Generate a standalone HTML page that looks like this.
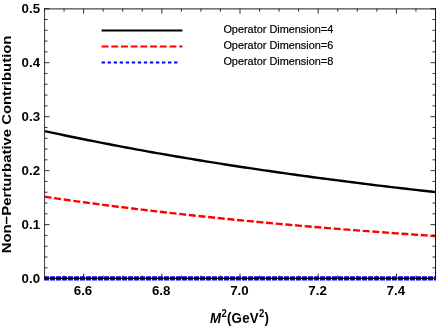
<!DOCTYPE html>
<html><head><meta charset="utf-8"><style>
html,body{margin:0;padding:0;background:#fff;}
svg{display:block;will-change:transform;}
text{font-family:"Liberation Sans",sans-serif;fill:#000}
</style></head><body>
<svg width="436" height="327" viewBox="0 0 436 327">
<rect width="436" height="327" fill="#fff"/>
<path d="M44.50,131.07 L49.39,132.13 L54.28,133.17 L59.16,134.20 L64.05,135.23 L68.94,136.25 L73.83,137.25 L78.71,138.25 L83.60,139.24 L88.49,140.22 L93.38,141.19 L98.26,142.15 L103.15,143.11 L108.04,144.05 L112.92,144.99 L117.81,145.92 L122.70,146.84 L127.59,147.75 L132.47,148.66 L137.36,149.56 L142.25,150.44 L147.14,151.33 L152.03,152.20 L156.91,153.07 L161.80,153.92 L166.69,154.78 L171.58,155.62 L176.46,156.46 L181.35,157.29 L186.24,158.11 L191.12,158.92 L196.01,159.73 L200.90,160.53 L205.79,161.33 L210.67,162.11 L215.56,162.89 L220.45,163.67 L225.34,164.44 L230.22,165.20 L235.11,165.95 L240.00,166.70 L244.89,167.44 L249.78,168.18 L254.66,168.91 L259.55,169.63 L264.44,170.35 L269.33,171.06 L274.21,171.77 L279.10,172.47 L283.99,173.16 L288.88,173.85 L293.76,174.53 L298.65,175.21 L303.54,175.88 L308.42,176.55 L313.31,177.21 L318.20,177.86 L323.09,178.51 L327.97,179.16 L332.86,179.80 L337.75,180.43 L342.64,181.06 L347.53,181.68 L352.41,182.30 L357.30,182.91 L362.19,183.52 L367.08,184.13 L371.96,184.73 L376.85,185.32 L381.74,185.91 L386.62,186.49 L391.51,187.07 L396.40,187.65 L401.29,188.22 L406.17,188.79 L411.06,189.35 L415.95,189.91 L420.84,190.46 L425.72,191.01 L430.61,191.55 L435.50,192.09" fill="none" stroke="#000" stroke-width="2.4"/>
<path d="M44.50,196.71 L49.39,197.43 L54.28,198.14 L59.16,198.84 L64.05,199.53 L68.94,200.22 L73.83,200.90 L78.71,201.57 L83.60,202.23 L88.49,202.89 L93.38,203.54 L98.26,204.18 L103.15,204.82 L108.04,205.45 L112.92,206.07 L117.81,206.69 L122.70,207.30 L127.59,207.91 L132.47,208.51 L137.36,209.10 L142.25,209.68 L147.14,210.27 L152.03,210.84 L156.91,211.41 L161.80,211.97 L166.69,212.53 L171.58,213.08 L176.46,213.62 L181.35,214.16 L186.24,214.70 L191.12,215.23 L196.01,215.75 L200.90,216.27 L205.79,216.78 L210.67,217.29 L215.56,217.80 L220.45,218.29 L225.34,218.79 L230.22,219.28 L235.11,219.76 L240.00,220.24 L244.89,220.71 L249.78,221.18 L254.66,221.65 L259.55,222.11 L264.44,222.56 L269.33,223.01 L274.21,223.46 L279.10,223.90 L283.99,224.34 L288.88,224.77 L293.76,225.20 L298.65,225.63 L303.54,226.05 L308.42,226.47 L313.31,226.88 L318.20,227.29 L323.09,227.69 L327.97,228.09 L332.86,228.49 L337.75,228.88 L342.64,229.27 L347.53,229.66 L352.41,230.04 L357.30,230.42 L362.19,230.80 L367.08,231.17 L371.96,231.54 L376.85,231.90 L381.74,232.26 L386.62,232.62 L391.51,232.98 L396.40,233.33 L401.29,233.67 L406.17,234.02 L411.06,234.36 L415.95,234.70 L420.84,235.03 L425.72,235.37 L430.61,235.69 L435.50,236.02" fill="none" stroke="#ff0000" stroke-width="2.4" stroke-dasharray="7 2.7"/>
<line x1="44" y1="278.3" x2="436" y2="278.3" stroke="#0000ff" stroke-width="4.2" stroke-dasharray="5 1" />
<line x1="44" y1="8.85" x2="436" y2="8.85" stroke="#4a4a4a" stroke-width="1.2"/>
<line x1="44.55" y1="8.3" x2="44.55" y2="279" stroke="#3a3a3a" stroke-width="1"/>
<line x1="435.5" y1="8.3" x2="435.5" y2="279" stroke="#111" stroke-width="1"/>
<line x1="44" y1="278.35" x2="436" y2="278.35" stroke="#000" stroke-width="1.4"/>
<path d="M44.50,278.6v-3M44.50,8.7v3M64.05,278.6v-3M64.05,8.7v3M83.60,278.6v-5M83.60,8.7v5M103.15,278.6v-3M103.15,8.7v3M122.70,278.6v-3M122.70,8.7v3M142.25,278.6v-3M142.25,8.7v3M161.80,278.6v-5M161.80,8.7v5M181.35,278.6v-3M181.35,8.7v3M200.90,278.6v-3M200.90,8.7v3M220.45,278.6v-3M220.45,8.7v3M240.00,278.6v-5M240.00,8.7v5M259.55,278.6v-3M259.55,8.7v3M279.10,278.6v-3M279.10,8.7v3M298.65,278.6v-3M298.65,8.7v3M318.20,278.6v-5M318.20,8.7v5M337.75,278.6v-3M337.75,8.7v3M357.30,278.6v-3M357.30,8.7v3M376.85,278.6v-3M376.85,8.7v3M396.40,278.6v-5M396.40,8.7v5M415.95,278.6v-3M415.95,8.7v3M435.50,278.6v-3M435.50,8.7v3M44.5,278.60h5M435.5,278.60h-5M44.5,267.80h3M435.5,267.80h-3M44.5,257.01h3M435.5,257.01h-3M44.5,246.21h3M435.5,246.21h-3M44.5,235.42h3M435.5,235.42h-3M44.5,224.62h5M435.5,224.62h-5M44.5,213.82h3M435.5,213.82h-3M44.5,203.03h3M435.5,203.03h-3M44.5,192.23h3M435.5,192.23h-3M44.5,181.44h3M435.5,181.44h-3M44.5,170.64h5M435.5,170.64h-5M44.5,159.84h3M435.5,159.84h-3M44.5,149.05h3M435.5,149.05h-3M44.5,138.25h3M435.5,138.25h-3M44.5,127.46h3M435.5,127.46h-3M44.5,116.66h5M435.5,116.66h-5M44.5,105.86h3M435.5,105.86h-3M44.5,95.07h3M435.5,95.07h-3M44.5,84.27h3M435.5,84.27h-3M44.5,73.48h3M435.5,73.48h-3M44.5,62.68h5M435.5,62.68h-5M44.5,51.88h3M435.5,51.88h-3M44.5,41.09h3M435.5,41.09h-3M44.5,30.29h3M435.5,30.29h-3M44.5,19.50h3M435.5,19.50h-3M44.5,8.70h5M435.5,8.70h-5" stroke="#1a1a1a" stroke-width="0.9" fill="none"/>
<g font-size="13.3" font-weight="bold"><text x="40.1" y="283.35" text-anchor="end">0.0</text><text x="40.1" y="229.37" text-anchor="end">0.1</text><text x="40.1" y="175.39" text-anchor="end">0.2</text><text x="40.1" y="121.41" text-anchor="end">0.3</text><text x="40.1" y="67.43" text-anchor="end">0.4</text><text x="40.1" y="13.45" text-anchor="end">0.5</text><text x="83.00" y="294.7" text-anchor="middle">6.6</text><text x="161.20" y="294.7" text-anchor="middle">6.8</text><text x="239.40" y="294.7" text-anchor="middle">7.0</text><text x="317.60" y="294.7" text-anchor="middle">7.2</text><text x="395.80" y="294.7" text-anchor="middle">7.4</text></g>
<text transform="translate(10.9,144.45) rotate(-90) scale(1.1187,1)" font-size="13.3" font-weight="bold" text-anchor="middle">Non−Perturbative Contribution</text>
<text transform="translate(239.6,323.3) scale(1,1.12)" font-size="13.3" font-weight="bold" text-anchor="middle" letter-spacing="0.25"><tspan font-style="italic">M</tspan><tspan font-size="9.5" dy="-5.4">2</tspan><tspan dy="5.4">(GeV</tspan><tspan font-size="9.5" dy="-5.4">2</tspan><tspan dy="5.4">)</tspan></text>
<g stroke-width="2" fill="none">
<line x1="101.6" y1="30.4" x2="182.4" y2="30.4" stroke="#000"/>
<line x1="101.6" y1="46.6" x2="182.4" y2="46.6" stroke="#ff0000" stroke-dasharray="6.9 2.8"/>
<line x1="101.6" y1="62.5" x2="178" y2="62.5" stroke="#0000ff" stroke-dasharray="3.3 2.74"/>
</g>
<g font-size="10.9" stroke="#000" stroke-width="0.2">
<text x="223.4" y="33.1">Operator Dimension=4</text>
<text x="223.4" y="49.3">Operator Dimension=6</text>
<text x="223.4" y="65.4">Operator Dimension=8</text>
</g>
</svg>
</body></html>
